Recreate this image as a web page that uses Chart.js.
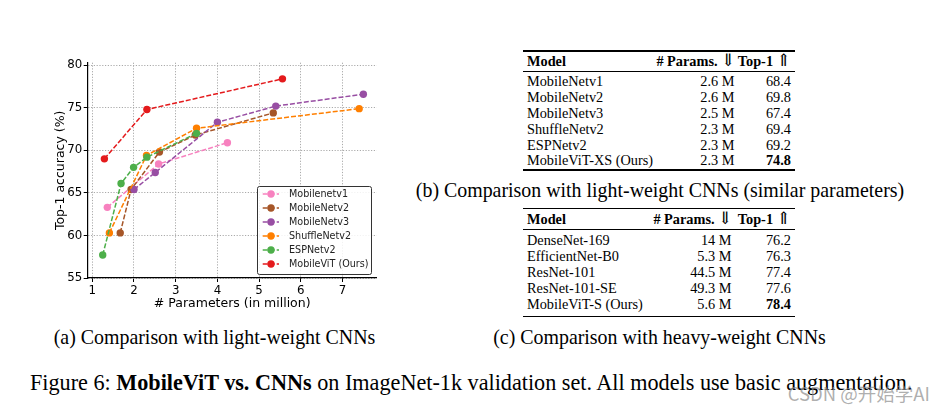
<!DOCTYPE html>
<html>
<head>
<meta charset="utf-8">
<script src="https://cdn.jsdelivr.net/npm/chart.js@4.4.0/dist/chart.umd.min.js"></script>
<style>
  body { margin: 0; background: #fff; width: 937px; height: 412px; overflow: hidden; position: relative;
         font-family: 'Liberation Serif', 'Times New Roman', serif; color: #000; }
  .t { position: absolute; white-space: nowrap; line-height: 1; }
  .rule { position: absolute; background: #000; }
  .arr { font-family: 'DejaVu Serif', serif; font-weight: normal; font-size: 1.2em; line-height: 0.8; }
  #chartBox { position: absolute; left: 40px; top: 54px; width: 345px; height: 265px; }
</style>
</head>
<body>
<div id="chartBox"><canvas id="accChart"></canvas></div>
<script>
// ---- line chart values ----
var mnv1X = [1.36, 2.59, 4.24];
var mnv1Y = [63.3, 68.4, 70.9];
var mnv2X = [1.67, 1.93, 2.61, 3.47, 5.34];
var mnv2Y = [60.3, 65.4, 69.8, 71.8, 74.4];
var mnv3X = [2.0, 2.51, 4.0, 5.4, 7.5];
var mnv3Y = [65.4, 67.4, 73.3, 75.2, 76.6];
var shuffleX = [1.41, 2.30, 3.50, 7.40];
var shuffleY = [60.3, 69.4, 72.6, 74.9];
var espX = [1.25, 1.69, 1.99, 2.31, 3.50];
var espY = [57.7, 66.1, 68.0, 69.2, 72.0];
var vitX = [1.29, 2.31, 5.56];
var vitY = [69.0, 74.8, 78.4];

var seriesNames = ['Mobilenetv1', 'MobileNetv2', 'MobileNetv3', 'ShuffleNetv2', 'ESPNetv2', 'MobileViT (Ours)'];
var seriesColors = ['#f781bf', '#a65628', '#984ea3', '#ff7f00', '#4daf4a', '#e41a1c'];
var xTicks = [1, 2, 3, 4, 5, 6, 7];
var yTicks = [55, 60, 65, 70, 75, 80];

// ---- table values ----
var lightModels = ['MobileNetv1', 'MobileNetv2', 'MobileNetv3', 'ShuffleNetv2', 'ESPNetv2', 'MobileViT-XS (Ours)'];
var lightParams = ['2.6 M', '2.6 M', '2.5 M', '2.3 M', '2.3 M', '2.3 M'];
var lightTop1 = ['68.4', '69.8', '67.4', '69.4', '69.2', '74.8'];
var heavyModels = ['DenseNet-169', 'EfficientNet-B0', 'ResNet-101', 'ResNet-101-SE', 'MobileViT-S (Ours)'];
var heavyParams = ['14 M', '5.3 M', '44.5 M', '49.3 M', '5.6 M'];
var heavyTop1 = ['76.2', '76.3', '77.4', '77.6', '78.4'];

function pts(xs, ys) {
  return xs.map(function (x, i) { return { x: x, y: ys[i] }; });
}
var allX = [mnv1X, mnv2X, mnv3X, shuffleX, espX, vitX];
var allY = [mnv1Y, mnv2Y, mnv3Y, shuffleY, espY, vitY];

var datasets = seriesNames.map(function (name, i) {
  return {
    label: name,
    data: pts(allX[i], allY[i]),
    showLine: true,
    borderColor: seriesColors[i],
    backgroundColor: seriesColors[i],
    borderWidth: 1.5,
    borderDash: [5, 2],
    pointRadius: 3.7,
    pointBorderWidth: 0,
    order: seriesNames.length - i   // later series on top, like matplotlib
  };
});

// legend drawn inside the plot, lower right
var boxLegend = {
  id: 'boxLegend',
  afterDatasetsDraw: function (chart) {
    var ctx = chart.ctx, a = chart.chartArea;
    var w = 114, h = 88;
    var x0 = Math.round(a.right - 5.7 - w), y0 = Math.round(a.bottom - 4 - h);
    ctx.save();
    ctx.fillStyle = 'rgba(255,255,255,0.85)';
    ctx.strokeStyle = '#333';
    ctx.lineWidth = 1;
    ctx.beginPath();
    ctx.roundRect(x0 + 0.5, y0 + 0.5, w, h, 2);
    ctx.fill();
    ctx.stroke();
    ctx.font = '9.6px "DejaVu Sans"';
    ctx.textBaseline = 'middle';
    chart.data.datasets.forEach(function (ds, i) {
      var cy = y0 + 8 + 14 * i;
      ctx.strokeStyle = ds.borderColor;
      ctx.lineWidth = 1.5;
      ctx.setLineDash([5, 2]);
      ctx.beginPath();
      ctx.moveTo(x0 + 5.7, cy);
      ctx.lineTo(x0 + 22, cy);
      ctx.stroke();
      ctx.setLineDash([]);
      ctx.fillStyle = ds.borderColor;
      ctx.beginPath();
      ctx.arc(x0 + 14, cy, 3.7, 0, Math.PI * 2);
      ctx.fill();
      ctx.fillStyle = '#222';
      ctx.fillText(ds.label, x0 + 32, cy + 0.5);
    });
    ctx.restore();
  }
};

var tickFont = { family: 'DejaVu Sans', size: 11.8 };
var titleFont = { family: 'DejaVu Sans', size: 12.5 };

new Chart(document.getElementById('accChart').getContext('2d'), {
  type: 'scatter',
  data: { datasets: datasets },
  options: {
    responsive: true,
    maintainAspectRatio: false,
    animation: false,
    layout: { padding: { top: 8.7, right: 8.3, left: 0, bottom: 0 } },
    plugins: { legend: { display: false }, tooltip: { enabled: false } },
    scales: {
      x: {
        type: 'linear', min: 0.89, max: 7.82,
        afterBuildTicks: function (s) { s.ticks = xTicks.map(function (v) { return { value: v }; }); },
        afterFit: function (s) { s.height = 41; },
        ticks: { font: tickFont, color: '#000', padding: 1.5, maxRotation: 0 },
        grid: { color: '#aaaaaa', lineWidth: 1, tickColor: '#000', tickLength: 4, tickWidth: 1 },
        border: { display: true, color: '#000', width: 1.2, dash: [1.2, 1.6] },
        title: { display: true, text: '# Parameters (in million)', font: titleFont, color: '#000', padding: { top: 0, bottom: 7.5 } }
      },
      y: {
        min: 55, max: 80.3,
        afterBuildTicks: function (s) { s.ticks = yTicks.map(function (v) { return { value: v }; }); },
        afterFit: function (s) { s.width = 47.7; },
        ticks: { font: tickFont, color: '#000', padding: 1.5 },
        grid: { color: '#aaaaaa', lineWidth: 1, tickColor: '#000', tickLength: 4, tickWidth: 1 },
        border: { display: true, color: '#000', width: 1.2, dash: [1.2, 1.6] },
        title: { display: true, text: 'Top-1 accuracy (%)', font: titleFont, color: '#000', padding: { top: 13, bottom: 0 } }
      }
    }
  },
  plugins: [boxLegend]
});

// ---- text, tables and captions ----
function addText(html, x, cy, size, align, extra) {
  var d = document.createElement('div');
  d.className = 't';
  d.innerHTML = html;
  d.style.fontSize = size + 'px';
  d.style.left = x + 'px';
  d.style.top = (cy - size / 2) + 'px';
  var tx = align === 'right' ? '-100%' : align === 'center' ? '-50%' : '0';
  d.style.transform = 'translateX(' + tx + ')';
  if (extra) d.style.cssText += extra;
  document.body.appendChild(d);
  return d;
}
function addRule(x1, x2, y, h) {
  var r = document.createElement('div');
  r.className = 'rule';
  r.style.left = x1 + 'px';
  r.style.width = (x2 - x1) + 'px';
  r.style.top = (y - h / 2) + 'px';
  r.style.height = h + 'px';
  document.body.appendChild(r);
}

var arrowDown = '<span class="arr">&#8659;</span>';
var arrowUp = '<span class="arr">&#8657;</span>';

function drawTable(models, params, top1, o) {
  addRule(523, 795, o.top, 1.4);
  addText('<b>Model</b>', 527, o.head, 14.3, 'left');
  addText('<b># Params.</b> ' + arrowDown, o.paramRight + 1, o.head, 14.3, 'right');
  addText('<b>Top-1</b> ' + arrowUp, 791, o.head, 14.3, 'right');
  addRule(523, 795, o.mid, 0.8);
  models.forEach(function (m, i) {
    var cy = o.row0 + o.step * i;
    var last = i === models.length - 1;
    addText(m, 527, cy, 14.3, 'left');
    addText(params[i], o.paramRight, cy, 14.3, 'right');
    addText(last ? '<b>' + top1[i] + '</b>' : top1[i], 791, cy, 14.3, 'right');
  });
  addRule(523, 795, o.bottom, 1.4);
}

drawTable(lightModels, lightParams, lightTop1,
  { top: 51, head: 61.5, mid: 71.5, row0: 81.5, step: 15.8, bottom: 170, paramRight: 734.5 });
drawTable(heavyModels, heavyParams, heavyTop1,
  { top: 208.5, head: 219.5, mid: 229.5, row0: 240, step: 16.1, bottom: 316.5, paramRight: 731.5 });

addText('(b) Comparison with light-weight CNNs (similar parameters)', 660, 191, 19.9, 'center');
addText('(a) Comparison with light-weight CNNs', 214.5, 338, 19.9, 'center');
addText('(c) Comparison with heavy-weight CNNs', 659.5, 338, 19.9, 'center');
addText('Figure 6: <b>MobileViT vs. CNNs</b> on ImageNet-1k validation set. All models use basic augmentation.',
  30, 383, 22.2, 'left');
addText('CSDN @开始学AI', 930, 393, 18.5, 'right',
  'font-family:"Noto Sans CJK SC","Noto Sans",sans-serif;color:rgba(140,140,140,0.7);');
</script>
</body>
</html>
